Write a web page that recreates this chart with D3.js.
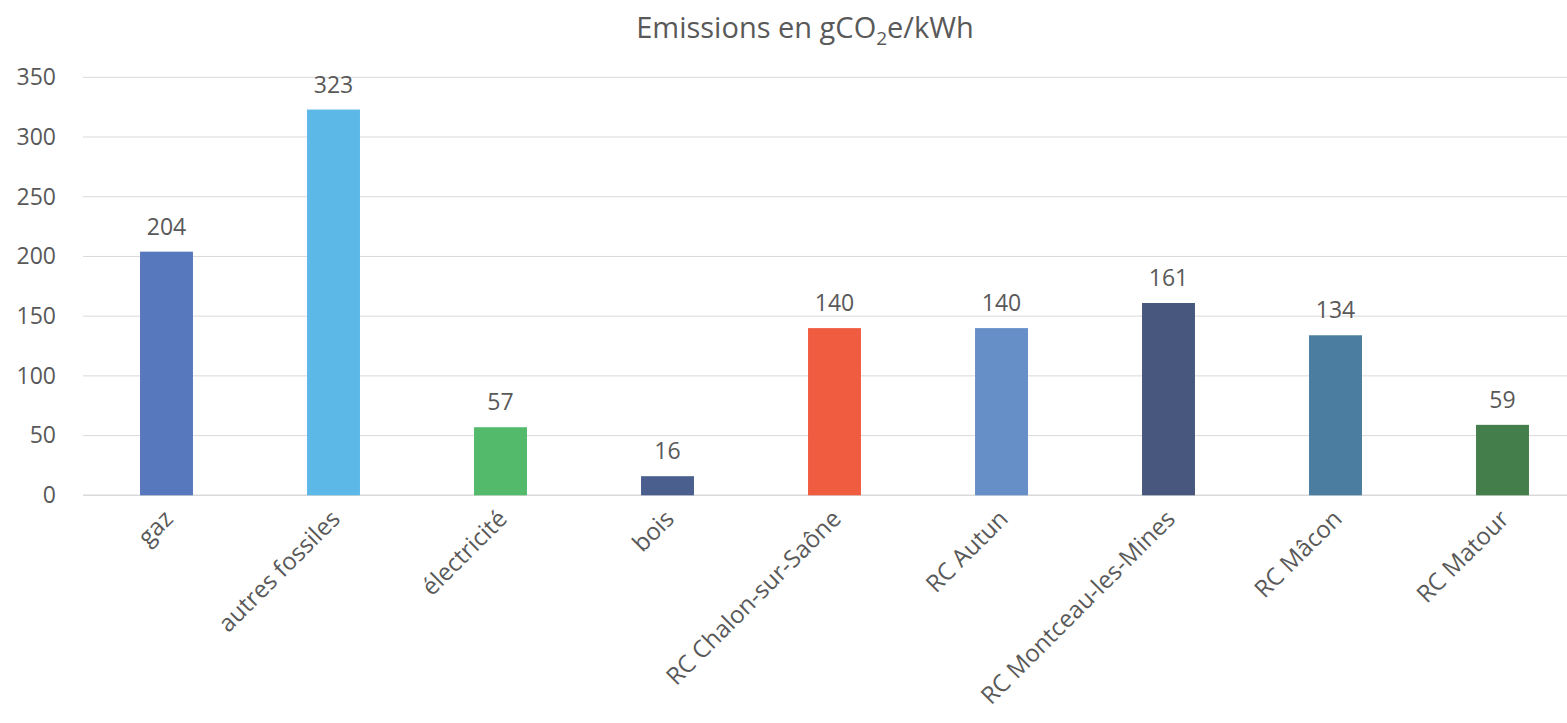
<!DOCTYPE html>
<html><head><meta charset="utf-8">
<script src="https://cdn.jsdelivr.net/npm/d3@7"></script>
<style>body{margin:0;background:#fff}svg{display:block}text{font-family:"Open Sans",sans-serif;fill:#595959}</style>
</head><body><svg id="c" width="1567" height="723"></svg>
<script>
const categories = ["gaz","autres fossiles","électricité","bois","RC Chalon-sur-Saône","RC Autun","RC Montceau-les-Mines","RC Mâcon","RC Matour"];
const values = [204,323,57,16,140,140,161,134,59];
const colors = ["#5778BC","#5CB8E6","#52BA6A","#4A5F8E","#F05C40","#668FC8","#48577D","#4A7DA0","#437E4B"];
const yTicks = [0,50,100,150,200,250,300,350];

const svg = d3.select("#c");
const x = d3.scaleBand().domain(categories).range([83,1586]).paddingInner(0.683).paddingOuter(0.3415);
const y = d3.scaleLinear().domain([0,350]).range([495.3,77.3]);

svg.append("g").selectAll("line").data(yTicks).join("line")
  .attr("x1",83).attr("x2",1567).attr("y1",d=>y(d)).attr("y2",d=>y(d))
  .attr("stroke","#D9D9D9").attr("stroke-width",d=>d===0?1.5:1);

const ya = svg.append("g").attr("transform","translate(60,0)")
  .call(d3.axisLeft(y).tickValues(yTicks).tickSize(0).tickPadding(4));
ya.select(".domain").remove();
ya.selectAll("text").style("font-size","23px").attr("fill","#595959");

svg.append("g").selectAll("rect").data(categories).join("rect")
  .attr("x",d=>x(d)).attr("width",x.bandwidth())
  .attr("y",(d,i)=>y(values[i])).attr("height",(d,i)=>y(0)-y(values[i]))
  .attr("fill",(d,i)=>colors[i]);

svg.append("g").selectAll("text").data(categories).join("text")
  .attr("x",d=>x(d)+x.bandwidth()/2).attr("y",(d,i)=>y(values[i])-17)
  .attr("text-anchor","middle").style("font-size","23px").text((d,i)=>values[i]);

const xa = svg.append("g").attr("transform",`translate(0,${y(0)})`)
  .call(d3.axisBottom(x).tickSize(0));
xa.select(".domain").remove();
xa.selectAll("text").style("font-size","24px").attr("fill","#595959")
  .attr("text-anchor","end").attr("dy",null).attr("y",0)
  .attr("transform","translate(8,25) rotate(-45)");

svg.append("text").attr("x",805).attr("y",38).attr("text-anchor","middle")
  .style("font-size","29px")
  .html('Emissions en gCO<tspan dy="7" style="font-size:19px">2</tspan><tspan dy="-7">e/kWh</tspan>');
</script></body></html>
